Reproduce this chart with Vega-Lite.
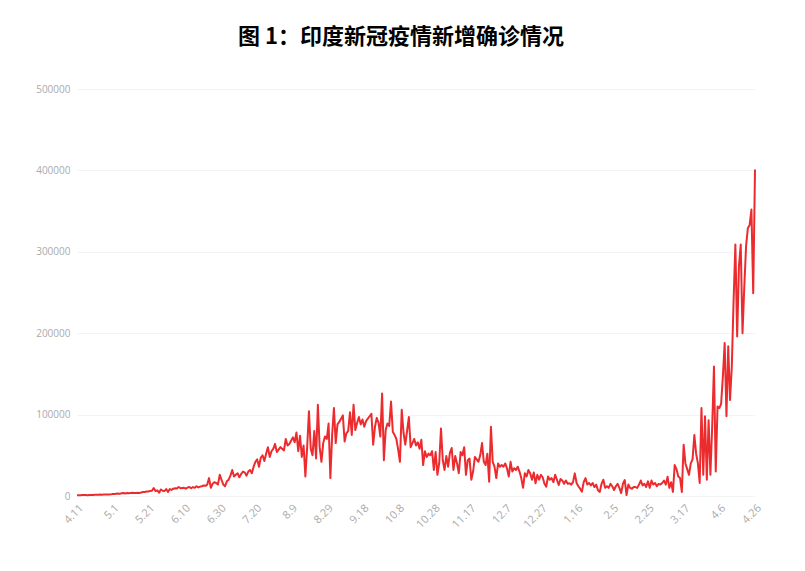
{
  "$schema": "https://vega.github.io/schema/vega-lite/v6.json",
  "width": 678,
  "height": 407,
  "autosize": {"type": "none"},
  "padding": {"left": 77, "top": 89, "right": 50, "bottom": 75},
  "background": "white",
  "title": {
    "text": "图 1：印度新冠疫情新增确诊情况",
    "font": "Noto Sans CJK SC",
    "fontSize": 22,
    "fontWeight": "bold",
    "color": "#000000",
    "anchor": "middle",
    "dx": -15,
    "offset": 18,
    "baseline": "alphabetic"
  },
  "config": {"view": {"stroke": null}},
  "data": {
    "values": [
      {"d":"2020-04-11","v":900},{"d":"2020-04-12","v":1000},{"d":"2020-04-13","v":1000},{"d":"2020-04-14","v":1100},{"d":"2020-04-15","v":1200},
      {"d":"2020-04-16","v":1100},{"d":"2020-04-17","v":1000},{"d":"2020-04-18","v":1300},{"d":"2020-04-19","v":1300},{"d":"2020-04-20","v":1300},
      {"d":"2020-04-21","v":1500},{"d":"2020-04-22","v":1400},{"d":"2020-04-23","v":1600},{"d":"2020-04-24","v":1700},{"d":"2020-04-25","v":1600},
      {"d":"2020-04-26","v":1800},{"d":"2020-04-27","v":1900},{"d":"2020-04-28","v":1900},{"d":"2020-04-29","v":1800},{"d":"2020-04-30","v":2000},
      {"d":"2020-05-01","v":2400},{"d":"2020-05-02","v":2500},{"d":"2020-05-03","v":2800},{"d":"2020-05-04","v":3000},{"d":"2020-05-05","v":2600},
      {"d":"2020-05-06","v":3500},{"d":"2020-05-07","v":3600},{"d":"2020-05-08","v":3200},{"d":"2020-05-09","v":3600},{"d":"2020-05-10","v":3300},
      {"d":"2020-05-11","v":3600},{"d":"2020-05-12","v":3900},{"d":"2020-05-13","v":3800},{"d":"2020-05-14","v":3600},{"d":"2020-05-15","v":4000},
      {"d":"2020-05-16","v":3800},{"d":"2020-05-17","v":4300},{"d":"2020-05-18","v":4900},{"d":"2020-05-19","v":5000},{"d":"2020-05-20","v":5600},
      {"d":"2020-05-21","v":5600},{"d":"2020-05-22","v":6100},{"d":"2020-05-23","v":6500},{"d":"2020-05-24","v":9800},{"d":"2020-05-25","v":6000},
      {"d":"2020-05-26","v":7000},{"d":"2020-05-27","v":4000},{"d":"2020-05-28","v":8000},{"d":"2020-05-29","v":6500},{"d":"2020-05-30","v":6000},
      {"d":"2020-05-31","v":8500},{"d":"2020-06-01","v":5000},{"d":"2020-06-02","v":8500},{"d":"2020-06-03","v":7500},{"d":"2020-06-04","v":9000},
      {"d":"2020-06-05","v":9500},{"d":"2020-06-06","v":9300},{"d":"2020-06-07","v":11000},{"d":"2020-06-08","v":9500},{"d":"2020-06-09","v":9800},
      {"d":"2020-06-10","v":10000},{"d":"2020-06-11","v":9000},{"d":"2020-06-12","v":10500},{"d":"2020-06-13","v":11000},{"d":"2020-06-14","v":9500},
      {"d":"2020-06-15","v":11000},{"d":"2020-06-16","v":10000},{"d":"2020-06-17","v":12000},{"d":"2020-06-18","v":10500},{"d":"2020-06-19","v":11500},
      {"d":"2020-06-20","v":12000},{"d":"2020-06-21","v":13000},{"d":"2020-06-22","v":12500},{"d":"2020-06-23","v":14000},{"d":"2020-06-24","v":22000},
      {"d":"2020-06-25","v":10000},{"d":"2020-06-26","v":15000},{"d":"2020-06-27","v":17000},{"d":"2020-06-28","v":16000},{"d":"2020-06-29","v":14000},
      {"d":"2020-06-30","v":26000},{"d":"2020-07-01","v":20000},{"d":"2020-07-02","v":14000},{"d":"2020-07-03","v":12000},{"d":"2020-07-04","v":18000},
      {"d":"2020-07-05","v":20000},{"d":"2020-07-06","v":25000},{"d":"2020-07-07","v":32000},{"d":"2020-07-08","v":24000},{"d":"2020-07-09","v":26000},
      {"d":"2020-07-10","v":28000},{"d":"2020-07-11","v":23000},{"d":"2020-07-12","v":27000},{"d":"2020-07-13","v":30000},{"d":"2020-07-14","v":29000},
      {"d":"2020-07-15","v":25000},{"d":"2020-07-16","v":30000},{"d":"2020-07-17","v":32000},{"d":"2020-07-18","v":28000},{"d":"2020-07-19","v":36000},
      {"d":"2020-07-20","v":42000},{"d":"2020-07-21","v":45000},{"d":"2020-07-22","v":36000},{"d":"2020-07-23","v":47000},{"d":"2020-07-24","v":50000},
      {"d":"2020-07-25","v":43000},{"d":"2020-07-26","v":52000},{"d":"2020-07-27","v":60000},{"d":"2020-07-28","v":48000},{"d":"2020-07-29","v":55000},
      {"d":"2020-07-30","v":58000},{"d":"2020-07-31","v":64000},{"d":"2020-08-01","v":54000},{"d":"2020-08-02","v":57000},{"d":"2020-08-03","v":60000},
      {"d":"2020-08-04","v":58000},{"d":"2020-08-05","v":56000},{"d":"2020-08-06","v":70000},{"d":"2020-08-07","v":62000},{"d":"2020-08-08","v":64000},
      {"d":"2020-08-09","v":68000},{"d":"2020-08-10","v":72000},{"d":"2020-08-11","v":66000},{"d":"2020-08-12","v":78000},{"d":"2020-08-13","v":55000},
      {"d":"2020-08-14","v":74000},{"d":"2020-08-15","v":48000},{"d":"2020-08-16","v":62000},{"d":"2020-08-17","v":24000},{"d":"2020-08-18","v":60000},
      {"d":"2020-08-19","v":104000},{"d":"2020-08-20","v":58000},{"d":"2020-08-21","v":50000},{"d":"2020-08-22","v":80000},{"d":"2020-08-23","v":46000},
      {"d":"2020-08-24","v":112000},{"d":"2020-08-25","v":60000},{"d":"2020-08-26","v":42000},{"d":"2020-08-27","v":65000},{"d":"2020-08-28","v":73000},
      {"d":"2020-08-29","v":70000},{"d":"2020-08-30","v":89000},{"d":"2020-08-31","v":22000},{"d":"2020-09-01","v":75000},{"d":"2020-09-02","v":108000},
      {"d":"2020-09-03","v":65000},{"d":"2020-09-04","v":88000},{"d":"2020-09-05","v":91000},{"d":"2020-09-06","v":95000},{"d":"2020-09-07","v":99000},
      {"d":"2020-09-08","v":67000},{"d":"2020-09-09","v":77000},{"d":"2020-09-10","v":80000},{"d":"2020-09-11","v":103000},{"d":"2020-09-12","v":75000},
      {"d":"2020-09-13","v":112000},{"d":"2020-09-14","v":81000},{"d":"2020-09-15","v":90000},{"d":"2020-09-16","v":97000},{"d":"2020-09-17","v":88000},
      {"d":"2020-09-18","v":94000},{"d":"2020-09-19","v":85000},{"d":"2020-09-20","v":92000},{"d":"2020-09-21","v":95000},{"d":"2020-09-22","v":98000},
      {"d":"2020-09-23","v":101000},{"d":"2020-09-24","v":63000},{"d":"2020-09-25","v":85000},{"d":"2020-09-26","v":96000},{"d":"2020-09-27","v":90000},
      {"d":"2020-09-28","v":73000},{"d":"2020-09-29","v":126000},{"d":"2020-09-30","v":44000},{"d":"2020-10-01","v":81000},{"d":"2020-10-02","v":89000},
      {"d":"2020-10-03","v":86000},{"d":"2020-10-04","v":116000},{"d":"2020-10-05","v":79000},{"d":"2020-10-06","v":75000},{"d":"2020-10-07","v":70000},
      {"d":"2020-10-08","v":57000},{"d":"2020-10-09","v":42000},{"d":"2020-10-10","v":106000},{"d":"2020-10-11","v":78000},{"d":"2020-10-12","v":63000},
      {"d":"2020-10-13","v":80000},{"d":"2020-10-14","v":97000},{"d":"2020-10-15","v":60000},{"d":"2020-10-16","v":65000},{"d":"2020-10-17","v":70000},
      {"d":"2020-10-18","v":62000},{"d":"2020-10-19","v":66000},{"d":"2020-10-20","v":58000},{"d":"2020-10-21","v":69000},{"d":"2020-10-22","v":38000},
      {"d":"2020-10-23","v":55000},{"d":"2020-10-24","v":48000},{"d":"2020-10-25","v":52000},{"d":"2020-10-26","v":50000},{"d":"2020-10-27","v":55000},
      {"d":"2020-10-28","v":32000},{"d":"2020-10-29","v":54000},{"d":"2020-10-30","v":26000},{"d":"2020-10-31","v":40000},{"d":"2020-11-01","v":83000},
      {"d":"2020-11-02","v":44000},{"d":"2020-11-03","v":32000},{"d":"2020-11-04","v":49000},{"d":"2020-11-05","v":36000},{"d":"2020-11-06","v":53000},
      {"d":"2020-11-07","v":59000},{"d":"2020-11-08","v":32000},{"d":"2020-11-09","v":49000},{"d":"2020-11-10","v":40000},{"d":"2020-11-11","v":28000},
      {"d":"2020-11-12","v":54000},{"d":"2020-11-13","v":50000},{"d":"2020-11-14","v":60000},{"d":"2020-11-15","v":26000},{"d":"2020-11-16","v":44000},
      {"d":"2020-11-17","v":46000},{"d":"2020-11-18","v":20000},{"d":"2020-11-19","v":30000},{"d":"2020-11-20","v":48000},{"d":"2020-11-21","v":45000},
      {"d":"2020-11-22","v":42000},{"d":"2020-11-23","v":50000},{"d":"2020-11-24","v":65000},{"d":"2020-11-25","v":42000},{"d":"2020-11-26","v":38000},
      {"d":"2020-11-27","v":52000},{"d":"2020-11-28","v":17600},{"d":"2020-11-29","v":85000},{"d":"2020-11-30","v":42000},{"d":"2020-12-01","v":36000},
      {"d":"2020-12-02","v":22000},{"d":"2020-12-03","v":40000},{"d":"2020-12-04","v":36000},{"d":"2020-12-05","v":38000},{"d":"2020-12-06","v":36000},
      {"d":"2020-12-07","v":40000},{"d":"2020-12-08","v":34000},{"d":"2020-12-09","v":24000},{"d":"2020-12-10","v":42000},{"d":"2020-12-11","v":30000},
      {"d":"2020-12-12","v":34000},{"d":"2020-12-13","v":32000},{"d":"2020-12-14","v":36000},{"d":"2020-12-15","v":30000},{"d":"2020-12-16","v":22000},
      {"d":"2020-12-17","v":10000},{"d":"2020-12-18","v":28000},{"d":"2020-12-19","v":24000},{"d":"2020-12-20","v":32000},{"d":"2020-12-21","v":28000},
      {"d":"2020-12-22","v":20000},{"d":"2020-12-23","v":29000},{"d":"2020-12-24","v":15600},{"d":"2020-12-25","v":26000},{"d":"2020-12-26","v":20000},
      {"d":"2020-12-27","v":26000},{"d":"2020-12-28","v":23000},{"d":"2020-12-29","v":15000},{"d":"2020-12-30","v":11500},{"d":"2020-12-31","v":24000},
      {"d":"2021-01-01","v":20000},{"d":"2021-01-02","v":22000},{"d":"2021-01-03","v":17000},{"d":"2021-01-04","v":26000},{"d":"2021-01-05","v":20000},
      {"d":"2021-01-06","v":13500},{"d":"2021-01-07","v":21000},{"d":"2021-01-08","v":19000},{"d":"2021-01-09","v":15000},{"d":"2021-01-10","v":19000},
      {"d":"2021-01-11","v":15000},{"d":"2021-01-12","v":15600},{"d":"2021-01-13","v":14000},{"d":"2021-01-14","v":17000},{"d":"2021-01-15","v":27800},
      {"d":"2021-01-16","v":16000},{"d":"2021-01-17","v":12000},{"d":"2021-01-18","v":9000},{"d":"2021-01-19","v":5300},{"d":"2021-01-20","v":17000},
      {"d":"2021-01-21","v":22000},{"d":"2021-01-22","v":14000},{"d":"2021-01-23","v":16000},{"d":"2021-01-24","v":13000},{"d":"2021-01-25","v":16000},
      {"d":"2021-01-26","v":11000},{"d":"2021-01-27","v":14000},{"d":"2021-01-28","v":7000},{"d":"2021-01-29","v":5000},{"d":"2021-01-30","v":15000},
      {"d":"2021-01-31","v":20000},{"d":"2021-02-01","v":10000},{"d":"2021-02-02","v":12000},{"d":"2021-02-03","v":10000},{"d":"2021-02-04","v":15000},
      {"d":"2021-02-05","v":12000},{"d":"2021-02-06","v":7400},{"d":"2021-02-07","v":12000},{"d":"2021-02-08","v":15000},{"d":"2021-02-09","v":10000},
      {"d":"2021-02-10","v":3500},{"d":"2021-02-11","v":15000},{"d":"2021-02-12","v":19600},{"d":"2021-02-13","v":1200},{"d":"2021-02-14","v":14000},
      {"d":"2021-02-15","v":10000},{"d":"2021-02-16","v":9000},{"d":"2021-02-17","v":11000},{"d":"2021-02-18","v":11000},{"d":"2021-02-19","v":10000},
      {"d":"2021-02-20","v":14000},{"d":"2021-02-21","v":19000},{"d":"2021-02-22","v":13000},{"d":"2021-02-23","v":15000},{"d":"2021-02-24","v":11000},
      {"d":"2021-02-25","v":18000},{"d":"2021-02-26","v":10000},{"d":"2021-02-27","v":19000},{"d":"2021-02-28","v":14000},{"d":"2021-03-01","v":16000},
      {"d":"2021-03-02","v":12000},{"d":"2021-03-03","v":15000},{"d":"2021-03-04","v":14000},{"d":"2021-03-05","v":16000},{"d":"2021-03-06","v":19000},
      {"d":"2021-03-07","v":14000},{"d":"2021-03-08","v":23700},{"d":"2021-03-09","v":10000},{"d":"2021-03-10","v":17000},{"d":"2021-03-11","v":5000},
      {"d":"2021-03-12","v":38000},{"d":"2021-03-13","v":33000},{"d":"2021-03-14","v":24000},{"d":"2021-03-15","v":22000},{"d":"2021-03-16","v":5000},
      {"d":"2021-03-17","v":63000},{"d":"2021-03-18","v":40000},{"d":"2021-03-19","v":33000},{"d":"2021-03-20","v":26000},{"d":"2021-03-21","v":40000},
      {"d":"2021-03-22","v":45000},{"d":"2021-03-23","v":75000},{"d":"2021-03-24","v":52000},{"d":"2021-03-25","v":40000},{"d":"2021-03-26","v":16000},
      {"d":"2021-03-27","v":108000},{"d":"2021-03-28","v":26000},{"d":"2021-03-29","v":98000},{"d":"2021-03-30","v":20000},{"d":"2021-03-31","v":93000},
      {"d":"2021-04-01","v":26000},{"d":"2021-04-02","v":85000},{"d":"2021-04-03","v":159000},{"d":"2021-04-04","v":30000},{"d":"2021-04-05","v":110000},
      {"d":"2021-04-06","v":108000},{"d":"2021-04-07","v":113000},{"d":"2021-04-08","v":147000},{"d":"2021-04-09","v":188000},{"d":"2021-04-10","v":98000},
      {"d":"2021-04-11","v":184000},{"d":"2021-04-12","v":118000},{"d":"2021-04-13","v":159000},{"d":"2021-04-14","v":240000},{"d":"2021-04-15","v":309000},
      {"d":"2021-04-16","v":196000},{"d":"2021-04-17","v":282000},{"d":"2021-04-18","v":309000},{"d":"2021-04-19","v":200000},{"d":"2021-04-20","v":257000},
      {"d":"2021-04-21","v":307000},{"d":"2021-04-22","v":329000},{"d":"2021-04-23","v":333000},{"d":"2021-04-24","v":352000},{"d":"2021-04-25","v":249000},
      {"d":"2021-04-26","v":401000}
    ]
  },
  "mark": {"type": "line", "color": "#ec2b2f", "strokeWidth": 2, "strokeJoin": "round"},
  "encoding": {
    "x": {
      "field": "d",
      "type": "temporal",
      "timeUnit": "utcyearmonthdate",
      "title": null,
      "axis": {
        "values": [
          {"year": 2020, "month": 4, "date": 11, "utc": true},
          {"year": 2020, "month": 5, "date": 1, "utc": true},
          {"year": 2020, "month": 5, "date": 21, "utc": true},
          {"year": 2020, "month": 6, "date": 10, "utc": true},
          {"year": 2020, "month": 6, "date": 30, "utc": true},
          {"year": 2020, "month": 7, "date": 20, "utc": true},
          {"year": 2020, "month": 8, "date": 9, "utc": true},
          {"year": 2020, "month": 8, "date": 29, "utc": true},
          {"year": 2020, "month": 9, "date": 18, "utc": true},
          {"year": 2020, "month": 10, "date": 8, "utc": true},
          {"year": 2020, "month": 10, "date": 28, "utc": true},
          {"year": 2020, "month": 11, "date": 17, "utc": true},
          {"year": 2020, "month": 12, "date": 7, "utc": true},
          {"year": 2020, "month": 12, "date": 27, "utc": true},
          {"year": 2021, "month": 1, "date": 16, "utc": true},
          {"year": 2021, "month": 2, "date": 5, "utc": true},
          {"year": 2021, "month": 2, "date": 25, "utc": true},
          {"year": 2021, "month": 3, "date": 17, "utc": true},
          {"year": 2021, "month": 4, "date": 6, "utc": true},
          {"year": 2021, "month": 4, "date": 26, "utc": true}
        ],
        "format": "%-m.%-d",
        "labelAngle": -45,
        "labelColor": "#aaaaaa",
        "labelFont": "Open Sans",
        "labelFontSize": 11,
        "labelPadding": 6,
        "labelOverlap": false,
        "domain": false,
        "ticks": false,
        "grid": false
      }
    },
    "y": {
      "field": "v",
      "type": "quantitative",
      "title": null,
      "scale": {"domain": [0, 500000]},
      "axis": {
        "values": [0, 100000, 200000, 300000, 400000, 500000],
        "format": "d",
        "labelColor": "#aaaaaa",
        "labelFont": "Open Sans",
        "labelFontSize": 10,
        "labelPadding": 7,
        "domain": false,
        "ticks": false,
        "gridColor": "#f3f3f3"
      }
    }
  }
}
